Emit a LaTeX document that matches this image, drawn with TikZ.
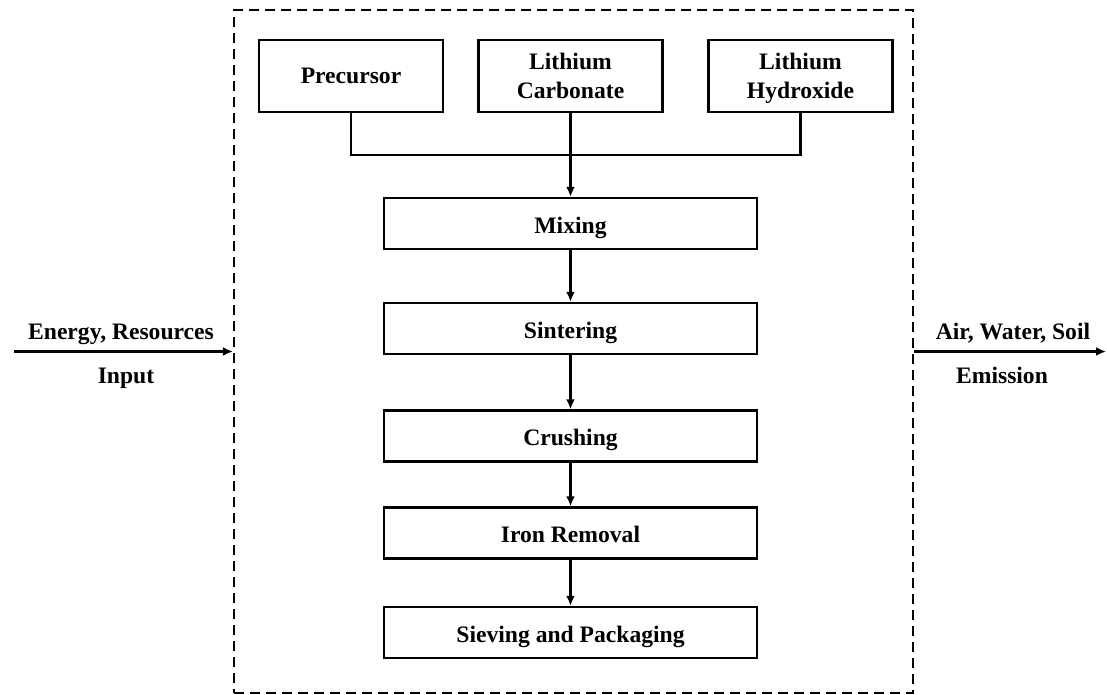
\documentclass[tikz,border=0pt]{standalone}
\usepackage{fontspec}
\setmainfont{Liberation Serif}
\usetikzlibrary{arrows.meta}
\begin{document}
\begin{tikzpicture}[x=1pt,y=-1pt,
  font=\fontsize{23.6}{28.5}\selectfont\bfseries,
  every node/.style={inner sep=0pt},
  rawbox/.style={draw, line width=2.5pt, rectangle, align=center,
    text depth=0pt, minimum width=184pt, minimum height=72pt},
  stagebox/.style={draw, line width=2.5pt, rectangle, align=center,
    text height=19pt, text depth=0pt,
    minimum width=373pt, minimum height=51pt},
  flow/.style={line width=2.5pt, -{Latex[length=10pt,width=9pt]}},
  link/.style={line width=2.5pt},
  boundary/.style={draw, line width=2.2pt, dash pattern=on 10pt off 6pt,
    minimum width=679pt, minimum height=683pt}]
\useasboundingbox (0,0) rectangle (1107,695);

% system boundary
\node[boundary] (system) at (573.5,351.5) {};

% raw materials
\node[rawbox] (prec) at (351,76) {Precursor};
\node[rawbox] (carb) at (570.5,76) {Lithium\\Carbonate};
\node[rawbox] (hydr) at (800.5,76) {Lithium\\Hydroxide};

% process stages
\node[stagebox] (mix)   at (570.5,223.5) {Mixing};
\node[stagebox] (sint)  at (570.5,328.5) {Sintering};
\node[stagebox] (crush) at (570.5,436)   {Crushing};
\node[stagebox] (iron)  at (570.5,533)   {Iron Removal};
\node[stagebox] (siev)  at (570.5,632.5) {Sieving and Packaging};

% feed collector
\coordinate (join) at (570.5,155);
\draw[link] (prec.south) |- (join) -| (hydr.south);
\draw[flow] (carb.south) -- (mix.north);
\draw[flow] (mix) -- (sint);
\draw[flow] (sint) -- (crush);
\draw[flow] (crush) -- (iron);
\draw[flow] (iron) -- (siev);

% inputs and emissions
\coordinate (src) at (14,351.5);
\coordinate (sink) at (1106,351.5);
\draw[flow] (src) -- (system.west);
\draw[flow] (system.east) -- (sink);
\node[anchor=base] (inlbl) at (121,339) {Energy, Resources};
\node[anchor=base] (intag) at (126,383) {Input};
\node[anchor=base] (outlbl) at (1013,339) {Air, Water, Soil};
\node[anchor=base] (outtag) at (1002,383) {Emission};
\end{tikzpicture}
\end{document}
